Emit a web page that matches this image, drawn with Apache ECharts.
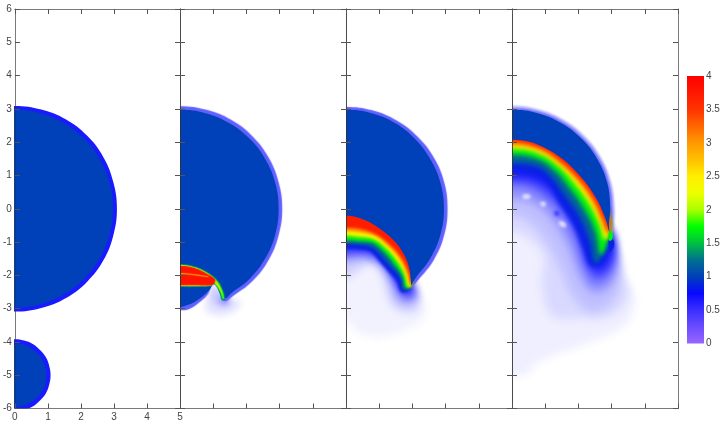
<!DOCTYPE html>
<html>
<head>
<meta charset="utf-8">
<script src="https://cdn.jsdelivr.net/npm/echarts@6/dist/echarts.min.js"></script>
<style>
  html, body { margin: 0; background: #fff; }
  #chart { width: 727px; height: 427px; }
</style>
</head>
<body>
<div id="chart"></div>
<script>
// tick labels
const xTicks = [0, 1, 2, 3, 4, 5];
const yTicks = [-6, -5, -4, -3, -2, -1, 0, 1, 2, 3, 4, 5, 6];
const colorbarTicks = [0, 0.5, 1, 1.5, 2, 2.5, 3, 3.5, 4];

// value scale in the panels, evenly spaced from 0 to 4
const fieldColors = ['#ffffff', '#b0b0ff', '#6060ff', '#1010ff', '#0040b8', '#007090', '#00c040', '#00ff00', '#aaff00',
  '#eeff00', '#ffee00', '#ffc000', '#ff9900', '#ff6600', '#ff3300', '#ff1800', '#ff0000'];
// the colorbar itself starts at purple
const colorbarColors = ['#9966ff', '#6a4cff', '#3a30ff', '#0808ff'].concat(fieldColors.slice(4));

// panel 1: the two bubbles at rest
const p1Big = [[0, 3.09], [.8, 2.98], [1.55, 2.68], [2.19, 2.19], [2.68, 1.55], [2.98, .8], [3.09, 0], [2.98, -.8], [2.68, -1.55], [2.19, -2.19], [1.55, -2.68], [.8, -2.98], [0, -3.09]];
const p1BigCore = [[0, 2.97], [.77, 2.87], [1.49, 2.57], [2.1, 2.1], [2.57, 1.49], [2.87, .77], [2.97, 0], [2.87, -.77], [2.57, -1.49], [2.1, -2.1], [1.49, -2.57], [.77, -2.87], [0, -2.97]];
const p1Small = [[0, -3.92], [.28, -3.96], [.54, -4.06], [.76, -4.24], [.94, -4.46], [1.04, -4.72], [1.08, -5], [1.04, -5.28], [.94, -5.54], [.76, -5.76], [.54, -5.94], [.28, -6.04], [0, -6.08]];
const p1SmallCore = [[0, -4.05], [.25, -4.08], [.48, -4.18], [.67, -4.33], [.82, -4.52], [.92, -4.75], [.95, -5], [.92, -5.25], [.82, -5.48], [.67, -5.67], [.48, -5.82], [.25, -5.92], [0, -5.95]];

// panel 2
const p2Edge = [[0, 3.08], [.8, 2.97], [1.54, 2.67], [2.18, 2.18], [2.67, 1.54], [2.97, .8], [3.08, 0], [2.97, -.8], [2.67, -1.54], [2.18, -2.18], [1.6, -2.62], [1.35, -2.78], [1.2, -2.55], [1.04, -2.15], [.85, -2.55], [.6, -2.8], [.3, -3.0], [0, -3.05]];
const p2Core = [[0, 2.97], [.77, 2.87], [1.49, 2.57], [2.1, 2.1], [2.57, 1.49], [2.87, .77], [2.97, 0], [2.87, -.77], [2.57, -1.49], [2.1, -2.1], [1.55, -2.53], [1.36, -2.68], [1.2, -2.4], [1.05, -2.2], [.9, -2.42], [.72, -2.6], [.44, -2.8], [.2, -2.9], [0, -2.95]];
const p2Plume1 = [[1.02, -2.25], [1.35, -2.68], [1.8, -2.75], [1.8, -2.95], [1.4, -3.2], [1, -3.2], [.75, -3], [.85, -2.55]];
const p2Plume2 = [[1.05, -2.3], [1.3, -2.7], [1.55, -2.75], [1.5, -2.9], [1.25, -2.95], [1, -2.85], [.95, -2.6]];
const p2Plume3 = [[1.25, -2.62], [1.36, -2.72], [1.45, -2.75], [1.38, -2.83], [1.27, -2.8]];
const p2Lens1 = [[0, -1.66], [.44, -1.73], [.84, -1.91], [1.15, -2.16], [1.3, -2.45], [1.36, -2.72], [1.26, -2.74], [1.19, -2.52], [1.03, -2.27], [.93, -2.33], [.44, -2.35], [0, -2.35]];
const p2Lens2 = [[0, -1.68], [.44, -1.75], [.84, -1.93], [1.13, -2.18], [1.28, -2.46], [1.33, -2.7], [1.28, -2.7], [1.2, -2.48], [1.02, -2.24], [.93, -2.31], [.44, -2.33], [0, -2.33]];
const p2Lens3 = [[0, -1.7], [.44, -1.77], [.84, -1.95], [1.1, -2.19], [1.25, -2.47], [1.3, -2.62], [1.24, -2.5], [1.1, -2.28], [1, -2.2], [.95, -2.29], [.44, -2.31], [0, -2.31]];
const p2Lens4 = [[0, -1.72], [.44, -1.78], [.84, -1.97], [1.06, -2.13], [.98, -2.28], [.44, -2.3], [0, -2.3]];
const p2Streak = [[0, -1.93], [.4, -1.96], [.85, -2.03], [.85, -2.06], [.4, -2], [0, -1.97]];

// panel 3
const p3Edge = [[0, 3.06], [.79, 2.96], [1.53, 2.65], [2.16, 2.16], [2.65, 1.53], [2.96, .79], [3.06, 0], [2.96, -.79], [2.65, -1.53], [2.16, -2.16], [2, -2.32]];
const p3Core = [[0, 2.97], [.77, 2.87], [1.49, 2.57], [2.09, 2.09], [2.55, 1.47], [2.85, .76], [2.95, 0], [2.85, -.76], [2.55, -1.47], [2.09, -2.09], [1.97, -2.31]];
const p3Front = [[0, -.21], [.41, -.28], [.92, -.53], [1.42, -.93], [1.72, -1.33], [1.89, -1.73], [1.97, -2.31]];
const p3Over = [[0, -.06], [.45, -.13], [1.02, -.42], [1.52, -.85], [1.85, -1.27], [2, -1.7], [1.97, -2.31]];
const p3Back37 = [[0, -.58], [.41, -.61], [.91, -.78], [1.32, -1.08], [1.67, -1.48], [1.87, -1.88], [1.95, -2.23]];
const p3Back30 = [[0, -.68], [.41, -.71], [.91, -.83], [1.27, -1.13], [1.62, -1.53], [1.82, -1.93], [1.92, -2.28]];
const p3Back24 = [[0, -.81], [.41, -.85], [.86, -.93], [1.22, -1.21], [1.54, -1.58], [1.77, -1.98], [1.87, -2.35]];
const p3Back17 = [[0, -.95], [.41, -.98], [.81, -1.03], [1.12, -1.28], [1.44, -1.65], [1.7, -2.03], [1.8, -2.38]];
const p3Back12 = [[0, -1.05], [.41, -1.08], [.76, -1.15], [1.03, -1.38], [1.34, -1.73], [1.64, -2.08], [1.72, -2.43]];
const p3Back08 = [[0, -1.21], [.41, -1.23], [.71, -1.28], [.96, -1.53], [1.22, -1.83], [1.52, -2.18], [1.67, -2.51], [1.92, -2.43]];
const p3Wake1 = [[0, -1], [1, -1], [1.9, -2.2], [2.05, -2.4], [2.35, -2.85], [2.4, -3.2], [1.9, -3.6], [1, -3.85], [.3, -3.7], [0, -3.3]];
const p3Wake2 = [[0, -1], [1, -1], [2, -2.4], [2.2, -2.8], [2.05, -3.1], [1.5, -3], [1.25, -2.6], [1.1, -2], [.8, -1.6], [.3, -1.9], [0, -2.1]];
const p3Wake3 = [[0, -1], [1, -1], [2, -2.35], [2.15, -2.65], [1.95, -2.85], [1.55, -2.75], [1.35, -2.15], [1, -1.68], [.55, -1.52], [0, -1.6]];
const p3Wake4 = [[0, -1], [1, -1], [2, -2.35], [2.05, -2.6], [1.8, -2.65], [1.55, -2.3], [1.2, -1.68], [.8, -1.42], [.4, -1.35], [0, -1.4]];
const p3Wake5 = [[0, -1], [1, -1], [2, -2.35], [1.95, -2.55], [1.75, -2.55], [1.5, -2.1], [1.2, -1.58], [.8, -1.3], [.4, -1.25], [0, -1.27]];

// panel 4
const p4Edge1 = [[0, 3.1], [.8, 2.99], [1.55, 2.68], [2.19, 2.19], [2.68, 1.55], [2.99, .8], [3.1, 0], [3.07, -.45], [3, -.78]];
const p4Edge2 = [[0, 3.03], [.78, 2.93], [1.51, 2.63], [2.14, 2.14], [2.63, 1.51], [2.93, .78], [3.03, 0], [2.99, -.5], [2.95, -.73]];
const p4Core = [[0, 2.97], [.77, 2.87], [1.49, 2.57], [2.1, 2.1], [2.57, 1.49], [2.87, .77], [2.96, 0], [2.92, -.45], [2.94, -.73]];
const p4Front = [[0, 2.07], [.38, 2.04], [.78, 1.92], [1.39, 1.59], [1.99, 1.05], [2.49, .39], [2.79, -.23], [2.94, -.73]];
const p4Over = [[0, 2.22], [.42, 2.19], [.84, 2.07], [1.48, 1.72], [2.1, 1.16], [2.61, .46], [2.91, -.2], [2.94, -.73]];
const p4Back37 = [[0, 2], [.78, 1.85], [1.39, 1.49], [1.99, .92], [2.44, .32], [2.74, -.28], [2.89, -.68]];
const p4Back30 = [[0, 1.9], [.78, 1.77], [1.39, 1.39], [1.94, .87], [2.41, .22], [2.69, -.38], [2.85, -.73]];
const p4Back24 = [[0, 1.8], [.78, 1.67], [1.39, 1.29], [1.87, .77], [2.34, .12], [2.64, -.48], [2.79, -.93]];
const p4Back17 = [[0, 1.62], [.78, 1.49], [1.29, 1.15], [1.74, .62], [2.19, -.03], [2.51, -.68], [2.69, -1.38]];
const p4Back12 = [[0, 1.37], [.78, 1.27], [1.19, .95], [1.59, .42], [2.04, -.23], [2.34, -.93], [2.54, -1.63]];
const p4Back08 = [[0, 1.15], [.78, 1.02], [1.09, .77], [1.39, .22], [1.84, -.48], [2.14, -1.18], [2.41, -1.73], [2.9, -1.3]];
const p4TipDark = [[2.92, -.9], [3.03, -.9], [3.08, -1.1], [2.95, -1.3]];
const p4TipGreen = [[2.93, -.68], [3.02, -.7], [3.02, -.92], [2.92, -.95]];
const p4Wake1 = [[0, 1.5], [1, 1.5], [2.2, .5], [2.95, -.75], [3.05, -1.05], [3.3, -1.9], [3.7, -2.73], [3.4, -3.5], [2.3, -4.03], [.8, -4.6], [.4, -5], [0, -5]];
const p4WakeMid = [[0, 1.5], [1, 1.5], [2.2, .5], [2.95, -.75], [3.05, -1.05], [3.3, -1.9], [3.5, -2.6], [3, -3.2], [2, -3.3], [1.2, -3.2], [.9, -2.3], [.95, -1.4], [.5, -.9], [0, -.7]];
const p4Wake2 = [[0, 1.3], [1, 1.3], [2.2, .4], [2.95, -.75], [3.05, -1.05], [3.25, -1.85], [3.1, -2.7], [2.4, -3.1], [1.8, -2.6], [1.5, -1.9], [1, -.95], [.5, -.4], [0, -.2]];
const p4Wake3 = [[0, 1.3], [1, 1.3], [2.2, .4], [2.95, -.75], [3.05, -1.05], [3.15, -1.7], [2.95, -2.3], [2.45, -2.5], [2.05, -2], [1.7, -1.1], [1.2, -.3], [.6, .2], [0, .3]];
const p4Wake4 = [[0, 1.3], [1, 1.3], [2.2, .4], [2.95, -.75], [3.05, -1.05], [3.1, -1.45], [2.9, -2], [2.5, -2.2], [2.2, -1.7], [1.9, -.9], [1.45, -.1], [.9, .4], [.4, .65], [0, .7]];
const p4Wake5 = [[0, 1.3], [1, 1.3], [2.2, .4], [2.95, -.75], [3.05, -1.05], [3.05, -1.25], [2.9, -1.75], [2.55, -1.95], [2.3, -1.65], [2.05, -.75], [1.6, 0], [1, .6], [.5, .85], [0, .9]];
const p4Wake6 = [[0, 1.3], [1, 1.3], [2.2, .4], [2.95, -.75], [3, -1.15], [2.8, -1.65], [2.6, -1.8], [2.4, -1.6], [2.15, -.75], [1.75, .05], [1.2, .65], [.6, .95], [0, 1]];
const p4Spot1 = [[.33, .42], [.53, .42], [.55, .32], [.35, .3]];
const p4Spot2 = [[.86, .2], [1, .2], [1, .08], [.88, .08]];
const p4Spot3 = [[1.42, -.38], [1.6, -.42], [1.62, -.55], [1.45, -.52]];
const p4Spot4 = [[1.28, -.08], [1.42, -.08], [1.42, -.2], [1.3, -.2]];

function withFront(front, back) {
  return front.concat(back.slice().reverse());
}

// painting passes per panel: [panel, blur in px, layers], each layer is [value, outline]
const passes = [
  [0, 0, [[.72, p1Big], [.72, p1Small], [1, p1BigCore], [1, p1SmallCore]]],
  [1, 6, [[.08, p2Plume1], [.18, p2Plume2], [.6, p2Plume3]]],
  [1, 1, [[.5, p2Edge]]],
  [1, 0, [[1, p2Core]]],
  [1, 0.8, [[1.3, p2Lens1], [1.8, p2Lens2], [2.6, p2Lens3], [3.8, p2Lens4], [3, p2Streak]]],
  [2, 10, [[.04, p3Wake1], [.15, p3Wake2], [.3, p3Wake3], [.5, p3Wake4], [.7, p3Wake5]]],
  [2, 1, [[.5, withFront(p3Edge, p3Front)]]],
  [2, 3, [[.85, withFront(p3Over, p3Back08)], [1.2, withFront(p3Over, p3Back12)], [1.7, withFront(p3Over, p3Back17)],
    [2.4, withFront(p3Over, p3Back24)], [3, withFront(p3Over, p3Back30)], [3.7, withFront(p3Over, p3Back37)]]],
  [2, 0, [[1, withFront(p3Core, p3Front)]]],
  [3, 10, [[.05, p4Wake1], [.12, p4WakeMid], [.2, p4Wake2], [.35, p4Wake3], [.5, p4Wake4], [.65, p4Wake5], [.8, p4Wake6]]],
  [3, 3, [[.1, p4Spot1], [.1, p4Spot2], [.1, p4Spot3], [.6, p4Spot4]]],
  [3, 2, [[.2, withFront(p4Edge1, p4Front)], [.45, withFront(p4Edge2, p4Front)]]],
  [3, 4, [[.85, withFront(p4Over, p4Back08)], [1.2, withFront(p4Over, p4Back12)], [1.7, withFront(p4Over, p4Back17)],
    [2.4, withFront(p4Over, p4Back24)], [3, withFront(p4Over, p4Back30)], [3.7, withFront(p4Over, p4Back37)]]],
  [3, 0, [[1, withFront(p4Core, p4Front)], [.85, p4TipDark], [1.7, p4TipGreen]]]
];

const panelLefts = [14, 180, 346, 512];
const labelStyle = { color: '#444', fontSize: 10, fontFamily: 'Liberation Sans' };
const lineStyle = { color: 'rgba(50, 50, 50, 0.65)', width: 1 };
const tickStyle = { show: true, inside: true, length: 5, lineStyle: { color: '#555', width: 1 } };

const grids = panelLefts.map((left) => ({ left, top: 9, width: 166, height: 399.5 }));
grids.push({ left: 687, top: 76, width: 17, height: 267.5 });

const xAxes = [];
const yAxes = [];
panelLefts.forEach((left, i) => {
  ['bottom', 'top'].forEach((position) => {
    xAxes.push({
      type: 'value', gridIndex: i, position, min: xTicks[0], max: xTicks[xTicks.length - 1], interval: 1, z: 5,
      splitLine: { show: false }, axisLine: { show: true, onZero: false, lineStyle }, axisTick: tickStyle,
      axisLabel: { show: i === 0 && position === 'bottom', margin: 4, ...labelStyle }
    });
  });
  ['left', 'right'].forEach((position) => {
    yAxes.push({
      type: 'value', gridIndex: i, position, min: yTicks[0], max: yTicks[yTicks.length - 1], interval: 1, z: 5,
      splitLine: { show: false }, axisLine: { show: true, onZero: false, lineStyle }, axisTick: tickStyle,
      axisLabel: { show: i === 0 && position === 'left', margin: 3, ...labelStyle }
    });
  });
});

// colorbar axes
xAxes.push({ type: 'category', gridIndex: 4, data: ['value'], show: false });
yAxes.push({
  type: 'value', gridIndex: 4, position: 'right', min: colorbarTicks[0], max: colorbarTicks[colorbarTicks.length - 1], interval: 0.5,
  splitLine: { show: false }, axisLine: { show: false }, axisTick: { show: false },
  axisLabel: { margin: 2, ...labelStyle }
});

// outlines that start and end on the axis are closed through their mirror image,
// the plot is axisymmetric and this keeps the curve tangent there
function closeOnAxis(outline) {
  if (outline[0][0] !== 0 || outline[outline.length - 1][0] !== 0) {
    return outline;
  }
  const mirror = outline.slice(1, -1).reverse().map((point) => [-point[0], point[1]]);
  return outline.concat(mirror);
}

// a blurred layer is drawn off canvas and only its shadow lands on the plot
const SHADOW_SHIFT = 3000;

function renderLayers(layers, blur) {
  return (params, api) => {
    const color = api.visual('color');
    const shift = blur ? SHADOW_SHIFT : 0;
    const points = closeOnAxis(layers[params.dataIndex][1]).map((point) => {
      const [x, y] = api.coord(point);
      return [x - shift, y];
    });
    return {
      type: 'polygon',
      shape: { points, smooth: 0.4 },
      style: blur
        ? { fill: color, shadowColor: color, shadowBlur: blur, shadowOffsetX: shift }
        : { fill: color }
    };
  };
}

const series = passes.map(([panel, blur, layers]) => ({
  type: 'custom',
  xAxisIndex: panel * 2,
  yAxisIndex: panel * 2,
  clip: true,
  silent: true,
  renderItem: renderLayers(layers, blur),
  data: layers.map((layer) => [layer[0]])
}));

series.push({
  type: 'bar',
  xAxisIndex: 8,
  yAxisIndex: 8,
  barWidth: '100%',
  silent: true,
  data: [colorbarTicks[colorbarTicks.length - 1]],
  itemStyle: {
    color: new echarts.graphic.LinearGradient(0, 1, 0, 0,
      colorbarColors.map((color, i) => ({ offset: i / (colorbarColors.length - 1), color })))
  }
});

const chart = echarts.init(document.getElementById('chart'));
chart.setOption({
  animation: false,
  backgroundColor: '#fff',
  grid: grids,
  xAxis: xAxes,
  yAxis: yAxes,
  visualMap: {
    type: 'continuous',
    show: false,
    min: 0,
    max: 4,
    dimension: 0,
    seriesIndex: passes.map((pass, i) => i),
    inRange: { color: fieldColors }
  },
  series
});
</script>
</body>
</html>
